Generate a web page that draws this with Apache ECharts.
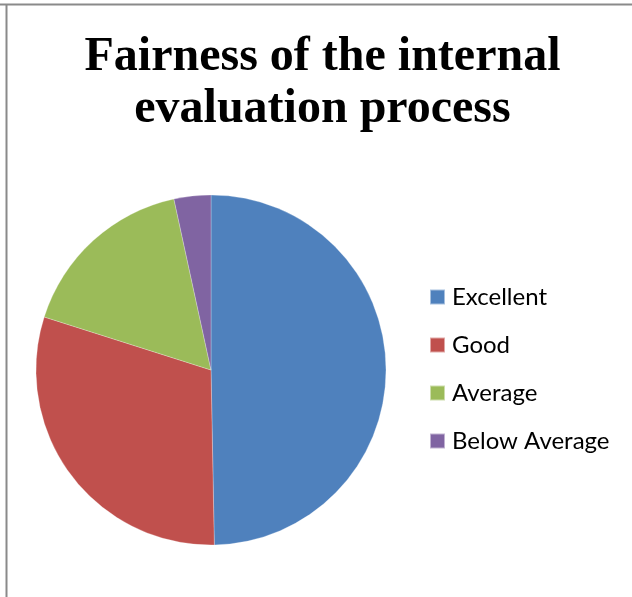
<!DOCTYPE html>
<html><head><meta charset="utf-8">
<script src="https://cdn.jsdelivr.net/npm/echarts@6/dist/echarts.min.js"></script>
<style>html,body{margin:0;padding:0;background:#fff;}#c{width:632px;height:597px;}</style>
</head><body><div id="c"></div>
<script>
const categories = ["Excellent", "Good", "Average", "Below Average"];
const values = [49.7, 30.2, 16.7, 3.4];
const colors = ["#4F81BD", "#C0504D", "#9BBB59", "#8064A2"];
const titleText = "Fairness of the internal\nevaluation process";

const chart = echarts.init(document.getElementById('c'), null, {renderer: 'canvas'});
chart.setOption({
  animation: false,
  backgroundColor: '#fff',
  graphic: [
    {type: 'line', shape: {x1: 0, y1: 4.5, x2: 632, y2: 4.5}, style: {stroke: '#8a8a8a', lineWidth: 2}},
    {type: 'line', shape: {x1: 6.5, y1: 4, x2: 6.5, y2: 597}, style: {stroke: '#8a8a8a', lineWidth: 2}}
  ],
  title: {
    text: titleText,
    left: 322.5, top: 32, textAlign: 'center', padding: 0,
    textStyle: {fontFamily: 'Liberation Serif', fontWeight: 'bold', fontSize: 48, lineHeight: 52, color: '#000'}
  },
  legend: {
    orient: 'vertical', left: 429, top: 285, padding: 0,
    itemWidth: 15, itemHeight: 15, itemGap: 24, icon: 'rect',
    textStyle: {fontFamily: 'Lato', fontSize: 24, lineHeight: 24, color: '#000', padding: [0, 0, 0, 2]},
    data: categories
  },
  series: [{
    type: 'pie', center: [211, 370], radius: 175, startAngle: 90, clockwise: true,
    label: {show: false}, labelLine: {show: false},
    itemStyle: {borderColor: 'rgba(255,255,255,0.5)', borderWidth: 0.5},
    data: categories.map((c, i) => ({name: c, value: values[i], itemStyle: {color: colors[i]}}))
  }]
});
</script></body></html>
